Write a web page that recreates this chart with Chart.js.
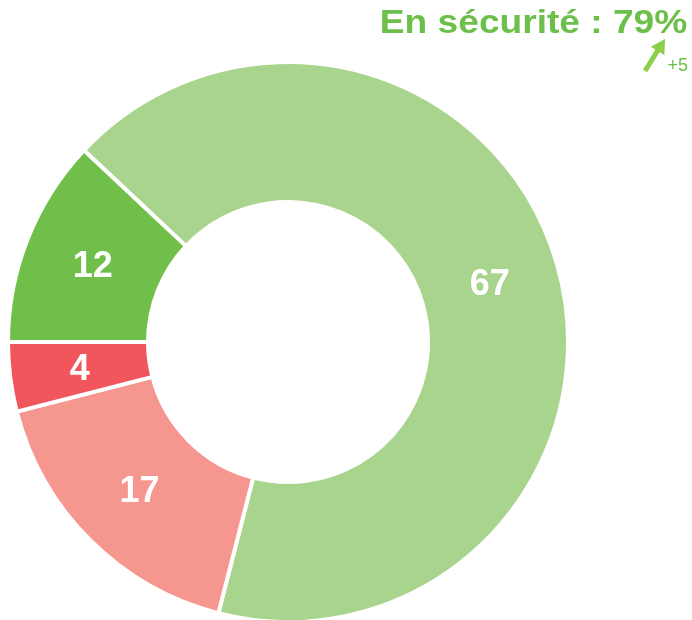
<!DOCTYPE html>
<html>
<head>
<meta charset="utf-8">
<script src="https://cdn.jsdelivr.net/npm/chart.js@4"></script>
<style>
  body { margin: 0; background: #fff; overflow: hidden; }
  #wrap { position: relative; width: 692px; height: 620px; overflow: hidden; }
  #titre { position: absolute; right: 5px; top: 3px; font: bold 33px "Liberation Sans", Arial, sans-serif; color: #6bbf4a;
           transform: scaleX(1.125); transform-origin: right top; white-space: nowrap; }
  #delta { position: absolute; right: 4px; top: 55px; font: 18px "Liberation Sans", Arial, sans-serif; color: #6bbf4a; }
  #fleche { position: absolute; left: 638px; top: 36px; }
</style>
</head>
<body>
<div id="wrap">
  <canvas id="pieChart" width="692" height="624"></canvas>
  <div id="titre">En sécurité : 79%</div>
  <svg id="fleche" width="32" height="40">
    <line x1="7" y1="35" x2="20" y2="14" stroke="#8ccf4a" stroke-width="5"/>
    <polygon points="27,3 26.4,19.1 12.8,10.7" fill="#8ccf4a"/>
  </svg>
  <div id="delta">+5</div>
</div>
<script>
var labels = ["Sécurisé", "Risque moyen", "Risque élevé", "Protégé"];
var values = [67, 17, 4, 12];
var colors = ["#a9d48d", "#f5978e", "#f0565b", "#70bf4a"];

var pieChart = document.getElementById("pieChart").getContext("2d");

//étiquettes au milieu des parts
var valueLabels = {
    id: "valueLabels",
    afterDatasetsDraw: function (chart) {
        var ctx = chart.ctx;
        var meta = chart.getDatasetMeta(0);
        ctx.save();
        ctx.fillStyle = "#ffffff";
        ctx.font = "bold 36px 'Liberation Sans', Arial, sans-serif";
        ctx.textAlign = "center";
        ctx.textBaseline = "middle";
        meta.data.forEach(function (arc, i) {
            var p = arc.getCenterPoint();
            ctx.fillText(values[i], p.x, p.y + 2);
        });
        ctx.restore();
    }
};

var chart = new Chart(pieChart, {
    type: "doughnut",
    data: {
        labels: labels,
        datasets: [{
            data: values,
            backgroundColor: colors,
            hoverBackgroundColor: colors,
            borderColor: "#ffffff",
            borderWidth: 4
        }]
    },
    options: {
        responsive: false,
        animation: false,
        rotation: -46.8,
        cutout: "50%",
        layout: { padding: { left: 6, top: 60, right: 122, bottom: 0 } },
        plugins: {
            legend: { display: false },
            tooltip: { enabled: false }
        }
    },
    plugins: [valueLabels]
});
</script>
</body>
</html>
